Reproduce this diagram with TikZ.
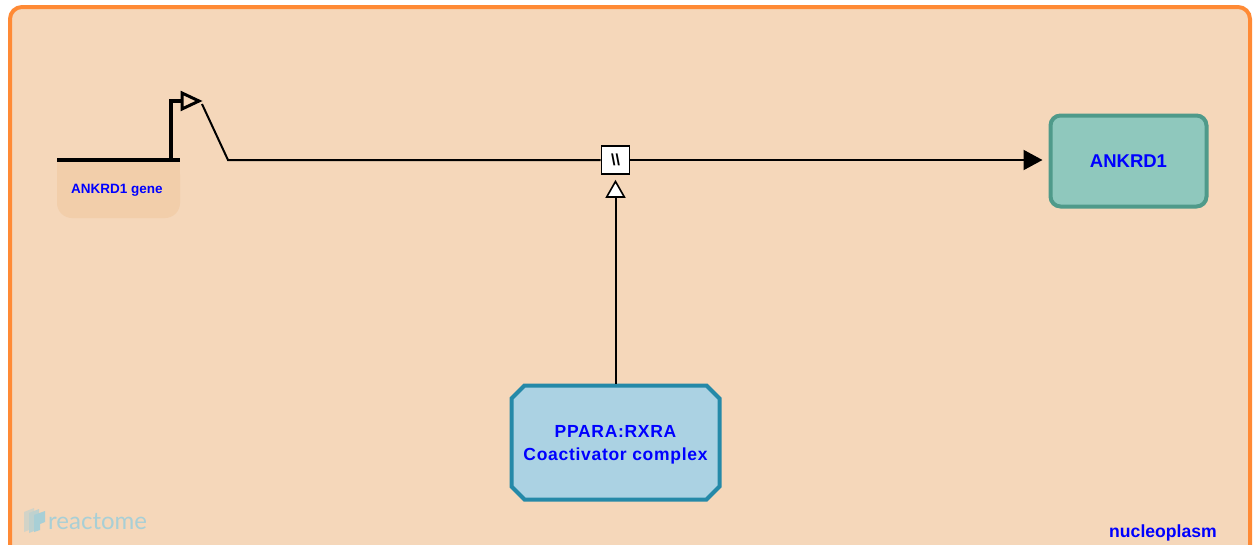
\documentclass[tikz,border=0pt]{standalone}
\usepackage{fontspec}
\setmainfont{Liberation Sans}
\newfontfamily\lato{Lato}
\usetikzlibrary{arrows.meta,calc}
\definecolor{compfill}{HTML}{F5D7BA}
\definecolor{compline}{HTML}{FF8A35}
\definecolor{genefill}{HTML}{F2CEAA}
\definecolor{protfill}{HTML}{8FC8BD}
\definecolor{protline}{HTML}{4F9A8A}
\definecolor{cplxfill}{HTML}{ABD2E3}
\definecolor{cplxline}{HTML}{2589A8}
\definecolor{lbl}{HTML}{0000FF}
\definecolor{logo}{HTML}{A8CFD6}
\tikzset{
  lbltext/.style={text=lbl,font=\bfseries},
  conn/.style={draw=black,line width=2pt},
  protbox/.style={draw=protline,fill=protfill,line width=4pt,rounded corners=10pt,
    minimum width=156pt,minimum height=91pt,lbltext,font=\bfseries\fontsize{18.5}{20}\selectfont},
  cplxbox/.style={draw=none,minimum width=208pt,minimum height=114pt,inner sep=0pt,outer sep=2pt},
  cplxshape/.style={draw=cplxline,fill=cplxfill,line width=4pt,line join=miter},
  cplxtext/.style={lbltext,align=center,inner sep=0pt,
    font=\addfontfeatures{LetterSpace=4}\bfseries\fontsize{17.5}{23.5}\selectfont},
  procbox/.style={draw=black,fill=white,line width=1.6pt,minimum size=28pt,inner sep=0pt,
    font=\bfseries\fontsize{16}{16}\selectfont},
}
\begin{document}
\begin{tikzpicture}[x=1pt,y=-1pt]
\useasboundingbox (0,0) rectangle (1254,544);
% compartment
\draw[draw=compline,fill=compfill,line width=4pt,rounded corners=12pt] (10,7) rectangle (1250,580);
\node[lbltext,font=\bfseries\fontsize{17.6}{18}\selectfont,anchor=base] (comp) at (1163,537) {nucleoplasm};
% reactome logo
\fill[logo!45!compfill] (24,512) -- (34,508) -- (34,528) -- (24,532) -- cycle;
\fill[logo!70!compfill] (29,513) -- (39,509) -- (39,529) -- (29,533) -- cycle;
\fill[logo] (34,515) -- (45,511) -- (45,522) -- (40,524) -- (40,530) -- (34,532) -- cycle;
\node[anchor=base west,text=logo,font=\lato\fontsize{24}{24}\selectfont,inner sep=0pt] (rlogo) at (48,529) {reactome};
% gene
\fill[genefill,rounded corners=15pt] (57,160) -- (57,218) -- (180,218) -- (180,160) -- cycle;
\fill[genefill] (57,160) rectangle (180,176);
\node[lbltext,font=\bfseries\fontsize{13.5}{15}\selectfont] (gene) at (117,190) {ANKRD1 gene};
\draw[line width=4pt] (57,160) -- (180,160);
\draw[line width=3.5pt] (171,161) -- (171,101) -- (182,101);
\draw[line width=3pt,fill=compfill,line join=miter] (182,93) -- (199,101) -- (182,109) -- cycle;
\coordinate (tss) at (202,104);
\coordinate (bend) at (228,160);
% process
\node[procbox] (proc) at (615.5,160) {\textbackslash\textbackslash};
% products
\node[protbox] (ankrd1) at (1128.5,161) {ANKRD1};
\node[cplxbox] (cplx) at (615.5,442.5) {};
\draw[cplxshape] (511.5,398.5) -- (524.5,385.5) -- (706.5,385.5) -- (719.5,398.5)
  -- (719.5,486.5) -- (706.5,499.5) -- (524.5,499.5) -- (511.5,486.5) -- cycle;
\node[cplxtext] (cplxlbl) at (615.5,445) {PPARA:RXRA\\Coactivator complex};
% connectors
\draw[conn] (tss) -- (bend) -- (proc.west);
\draw[conn,-{Triangle[length=19pt,width=20pt]}] (proc.east) -- ([xshift=-6pt]proc.east -| ankrd1.west);
\draw[conn,-{Triangle[open,length=18pt,width=20pt,fill=white,line width=1.6pt]}] (cplx.north) -- ([yshift=-5pt]proc.south);
\end{tikzpicture}
\end{document}
